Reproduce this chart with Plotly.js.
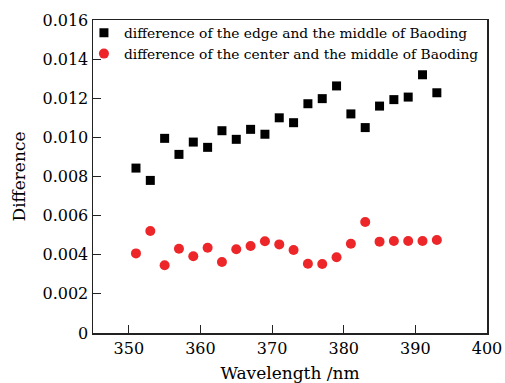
<!DOCTYPE html>
<html>
<head>
<meta charset="utf-8">
<script src="https://cdn.plot.ly/plotly-3.0.1.min.js"></script>
<style>html,body{margin:0;padding:0;background:#fff;}#chart{width:505px;height:383px;}</style>
</head>
<body>
<div id="chart"></div>
<script>
const wavelength = [351,353,355,357,359,361,363,365,367,369,371,373,375,377,379,381,383,385,387,389,391,393];
const edgeMiddle = [0.00843,0.00780,0.00995,0.00913,0.00976,0.00949,0.01034,0.00990,0.01041,0.01016,0.01100,0.01075,0.01172,0.01198,0.01263,0.01120,0.01050,0.01160,0.01193,0.01206,0.01320,0.01228];
const centerMiddle = [0.00407,0.00521,0.00346,0.00431,0.00392,0.00436,0.00363,0.00428,0.00445,0.00469,0.00453,0.00424,0.00354,0.00353,0.00387,0.00456,0.00567,0.00467,0.00470,0.00470,0.00470,0.00475];
const yTickVals = [0,0.002,0.004,0.006,0.008,0.010,0.012,0.014,0.016];
const yTickText = ['0','0.002','0.004','0.006','0.008','0.010','0.012','0.014','0.016'];
const xTickVals = [350,360,370,380,390,400];
const seriesNames = ['difference of the edge and the middle of Baoding','difference of the center and the middle of Baoding'];

const FONT = 'DejaVu Serif, serif';
const traces = [
  {x: wavelength, y: edgeMiddle, type:'scatter', mode:'markers', name: seriesNames[0],
   marker:{symbol:'square', size:9, color:'#000000'}},
  {x: wavelength, y: centerMiddle, type:'scatter', mode:'markers', name: seriesNames[1],
   marker:{symbol:'circle', size:10, color:'#ec2629'}}
];
const layout = {
  width:505, height:383,
  margin:{l:93, r:18, t:20, b:50},
  paper_bgcolor:'#ffffff', plot_bgcolor:'#ffffff',
  font:{family:FONT, size:15, color:'#000'},
  showlegend:true,
  legend:{x:-0.023, y:1.009, xanchor:'left', yanchor:'top', bgcolor:'rgba(0,0,0,0)',
    font:{family:FONT, size:13.8, color:'#000'}, itemwidth:30, tracegroupgap:0},
  xaxis:{range:[345,400], tickvals:xTickVals, ticks:'inside', ticklen:8, tickcolor:'#222',
    showline:true, linecolor:'#222', linewidth:1.5, mirror:true, showgrid:false, zeroline:false,
    tickfont:{family:FONT, size:16}, title:{text:'Wavelength /nm', font:{family:FONT, size:17}, standoff:10}},
  yaxis:{range:[0,0.016], tickvals:yTickVals, ticktext:yTickText, ticks:'inside', ticklen:8, tickcolor:'#222',
    showline:true, linecolor:'#222', linewidth:1.5, mirror:true, showgrid:false, zeroline:false,
    tickfont:{family:FONT, size:16}, title:{text:'Difference', font:{family:FONT, size:17}, standoff:12}}
};
Plotly.newPlot('chart', traces, layout, {displayModeBar:false, staticPlot:true});
</script>
</body>
</html>
